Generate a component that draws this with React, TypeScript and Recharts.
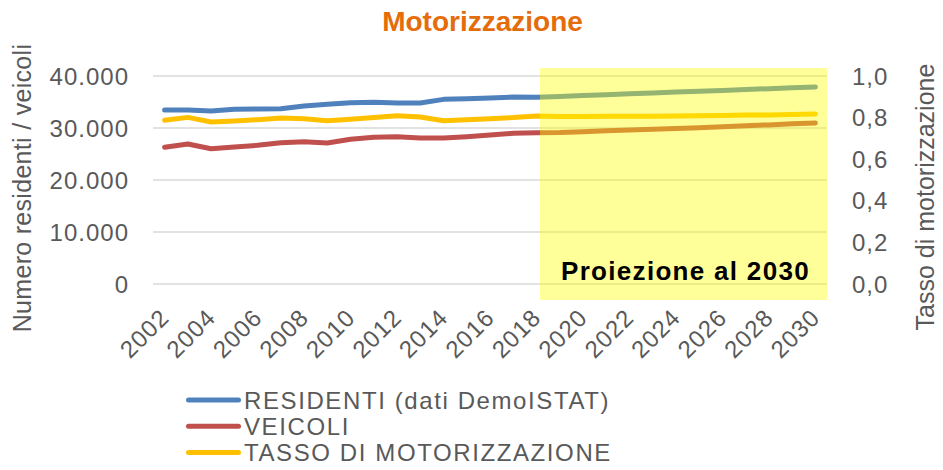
import React from 'react';
import { LineChart, Line, XAxis, YAxis, CartesianGrid, ReferenceArea, Legend } from 'recharts';

const years = [2002, 2003, 2004, 2005, 2006, 2007, 2008, 2009, 2010, 2011, 2012, 2013, 2014, 2015, 2016, 2017, 2018, 2019, 2020, 2021, 2022, 2023, 2024, 2025, 2026, 2027, 2028, 2029, 2030];
const residenti = [33460, 33460, 33270, 33590, 33650, 33720, 34230, 34550, 34870, 34940, 34810, 34810, 35510, 35640, 35770, 35960, 35900, 36070, 36230, 36400, 36570, 36730, 36900, 37070, 37230, 37400, 37570, 37730, 37900];
const veicoli = [26280, 26920, 26020, 26350, 26670, 27180, 27370, 27120, 27820, 28200, 28330, 28080, 28080, 28330, 28650, 28970, 29100, 29150, 29300, 29450, 29600, 29750, 29900, 30050, 30250, 30450, 30600, 30800, 30960];
const tasso = [0.787, 0.801, 0.779, 0.784, 0.79, 0.798, 0.795, 0.785, 0.792, 0.801, 0.809, 0.803, 0.785, 0.79, 0.795, 0.8, 0.808, 0.805, 0.805, 0.806, 0.806, 0.807, 0.808, 0.809, 0.81, 0.812, 0.813, 0.815, 0.817];
const xTicks = [2002, 2004, 2006, 2008, 2010, 2012, 2014, 2016, 2018, 2020, 2022, 2024, 2026, 2028, 2030];
const leftTicks = [0, 10000, 20000, 30000, 40000];
const rightTicks = [0, 0.2, 0.4, 0.6, 0.8, 1.0];
const seriesNames = ['RESIDENTI (dati DemoISTAT)', 'VEICOLI', 'TASSO DI MOTORIZZAZIONE'];
const seriesColors = ['#4F81BD', '#C0504D', '#FFC000'];
const projectionStart = 2018.15;
const projectionEnd = 2030.5;
const projectionLabel = 'Proiezione al 2030';

const data = years.map((y, i) => ({ year: y, residenti: residenti[i], veicoli: veicoli[i], tasso: tasso[i] }));

const FONT = '"Liberation Sans", Arial, sans-serif';
const GREY = '#595959';

const fmtThousands = (v: number) => {
  if (v === 0) return '0';
  const s = String(Math.round(v));
  return s.replace(/\B(?=(\d{3})+(?!\d))/g, '.');
};
const fmtRight = (v: number) => v.toFixed(1).replace('.', ',');

const XTick = (props: any) => {
  const { x, y, payload } = props;
  const ax = x + 6;
  const ay = y + 35;
  return (
    <text x={ax} y={ay} transform={`rotate(-45, ${ax}, ${ay})`} textAnchor="end" fill={GREY} fontSize={24} fontFamily={FONT} letterSpacing={1}>
      {payload.value}
    </text>
  );
};

const LegendContent = () => (
  <svg width={470} height={84} style={{ display: 'block', overflow: 'visible' }}>
    {seriesNames.map((n, i) => {
      const cy = 16 + i * 26.3;
      return (
        <g key={n}>
          <line x1={10.5} x2={60.5} y1={cy} y2={cy} stroke={seriesColors[i]} strokeWidth={5} strokeLinecap="round" />
          <text x={66} y={cy + 8.5} fill={GREY} fontSize={24} fontFamily={FONT} letterSpacing={1.6}>{n}</text>
        </g>
      );
    })}
  </svg>
);

const ProjLabel = (props: any) => {
  const vb = props.viewBox || {};
  const cx = vb.x + vb.width / 2 + 2;
  const by = vb.y + vb.height - 20;
  return (
    <text x={cx} y={by} textAnchor="middle" fill="#000" fontSize={26} fontWeight="bold" fontFamily={FONT} letterSpacing={1.3}>
      {projectionLabel}
    </text>
  );
};

const LeftTitle = (props: any) => {
  const vb = props.viewBox || {};
  const cx = vb.x + 14;
  const cy = vb.y + vb.height / 2 + 8;
  return (
    <text x={cx} y={cy} transform={`rotate(-90, ${cx}, ${cy})`} textAnchor="middle" dominantBaseline="central" fill={GREY} fontSize={25} fontFamily={FONT} letterSpacing={0.3}>
      Numero residenti / veicoli
    </text>
  );
};

const RightTitle = (props: any) => {
  const vb = props.viewBox || {};
  const cx = vb.x + 98;
  const cy = vb.y + vb.height / 2 + 17;
  return (
    <text x={cx} y={cy} transform={`rotate(-90, ${cx}, ${cy})`} textAnchor="middle" dominantBaseline="central" fill={GREY} fontSize={25} fontFamily={FONT}>
      Tasso di motorizzazione
    </text>
  );
};

export default function App() {
  return (
    <div style={{ position: 'absolute', left: 0, top: 0, width: 943, height: 470, background: '#fff', fontFamily: FONT }}>
      <div style={{ position: 'absolute', left: 11, top: 5, width: 943, textAlign: 'center', fontSize: 28, lineHeight: '34px', fontWeight: 'bold', color: '#E46C0A', letterSpacing: 0 }}>
        Motorizzazione
      </div>
      <LineChart width={943} height={470} data={data} margin={{ top: 76, right: 8, bottom: 86, left: 8 }} style={{ position: 'absolute', left: 0, top: 0 }}>
        <CartesianGrid yAxisId="left" vertical={false} stroke="#D9D9D9" strokeWidth={1.5} />
        <XAxis dataKey="year" type="number" domain={[2001.5, 2030.5]} ticks={xTicks} interval={0} height={100} axisLine={false} tickLine={false} tickSize={0} tickMargin={0} tick={<XTick />} allowDataOverflow />
        <YAxis yAxisId="left" orientation="left" width={145} domain={[0, 40000]} ticks={leftTicks} tickFormatter={fmtThousands} axisLine={false} tickLine={false} tickSize={0} tickMargin={24} tick={{ fill: GREY, fontSize: 24, fontFamily: FONT, letterSpacing: 1 }} label={<LeftTitle />} />
        <YAxis yAxisId="right" orientation="right" width={108} domain={[0, 1]} ticks={rightTicks} tickFormatter={fmtRight} axisLine={false} tickLine={false} tickSize={0} tickMargin={25} tick={{ fill: GREY, fontSize: 24, fontFamily: FONT, letterSpacing: 1 }} label={<RightTitle />} />
        <Line yAxisId="left" dataKey="residenti" name={seriesNames[0]} stroke={seriesColors[0]} strokeWidth={5} strokeLinecap="round" strokeLinejoin="round" dot={false} activeDot={false} isAnimationActive={false} />
        <Line yAxisId="left" dataKey="veicoli" name={seriesNames[1]} stroke={seriesColors[1]} strokeWidth={5} strokeLinecap="round" strokeLinejoin="round" dot={false} activeDot={false} isAnimationActive={false} />
        <Line yAxisId="right" dataKey="tasso" name={seriesNames[2]} stroke={seriesColors[2]} strokeWidth={5} strokeLinecap="round" strokeLinejoin="round" dot={false} activeDot={false} isAnimationActive={false} />
        <ReferenceArea yAxisId="left" x1={projectionStart} x2={projectionEnd} y1={-3100} y2={41540} ifOverflow="visible" fill="#FFFF00" fillOpacity={0.4} stroke="none" zIndex={1000} label={<ProjLabel />} />
        <Legend layout="vertical" align="center" verticalAlign="middle" content={<LegendContent />} wrapperStyle={{ position: 'absolute', left: 178, top: 384, width: 470, height: 84 }} />
      </LineChart>
    </div>
  );
}
